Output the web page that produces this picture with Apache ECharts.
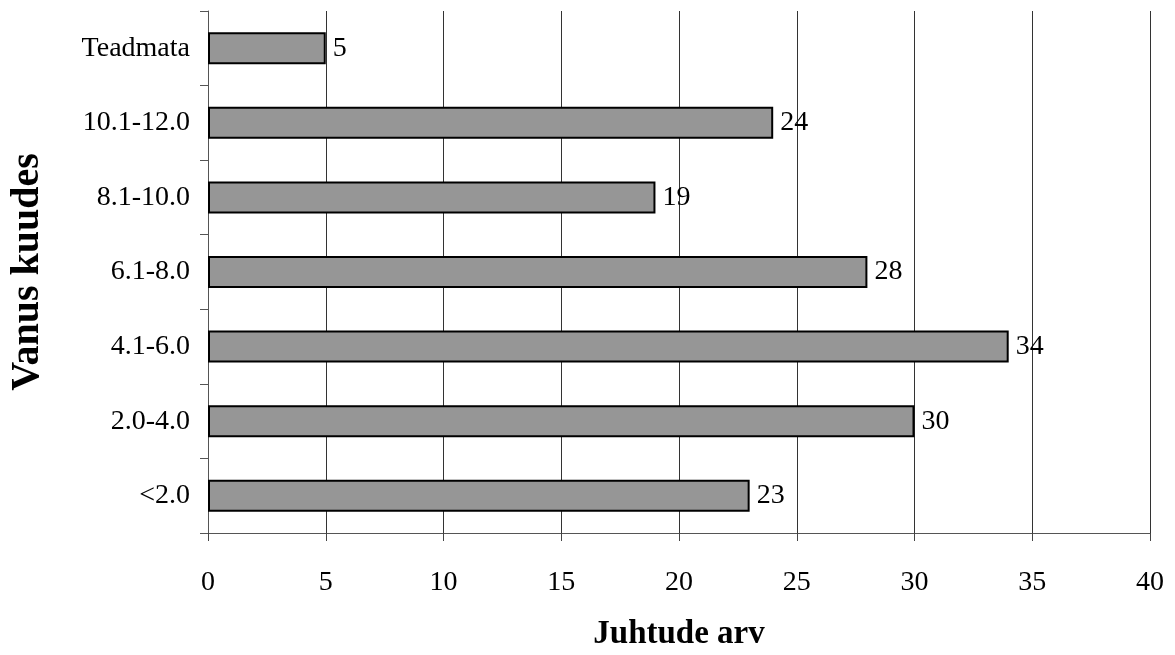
<!DOCTYPE html>
<html><head><meta charset="utf-8">
<script src="https://cdn.jsdelivr.net/npm/echarts@6/dist/echarts.min.js"></script>
<style>html,body{margin:0;padding:0;background:#fff;overflow:hidden}#c{width:1175px;height:655px}</style>
</head><body><div id="c"></div>
<script>
const categories = ['<2.0', '2.0-4.0', '4.1-6.0', '6.1-8.0', '8.1-10.0', '10.1-12.0', 'Teadmata'];
const values = [23, 30, 34, 28, 19, 24, 5];
const xTicks = [0, 5, 10, 15, 20, 25, 30, 35, 40];

const font = '"Liberation Serif", "Times New Roman", serif';
const chart = echarts.init(document.getElementById('c'));
chart.setOption({
  animation: false,
  backgroundColor: '#fff',
  grid: { left: 208, right: 25, top: 11, bottom: 122, containLabel: false, outerBoundsMode: 'none' },
  xAxis: {
    type: 'value', min: 0, max: 40, interval: 5,
    axisLine: { show: true, lineStyle: { color: '#555', width: 1 } },
    axisTick: { show: true, length: 8, lineStyle: { color: '#444' } },
    splitLine: { show: true, lineStyle: { color: '#333', width: 1 } },
    axisLabel: { color: '#000', fontFamily: font, fontSize: 28, margin: 36,
      formatter: v => xTicks.includes(v) ? String(v) : '' },
    name: 'Juhtude arv', nameLocation: 'middle', nameGap: 85,
    nameTextStyle: { color: '#000', fontFamily: font, fontSize: 33, fontWeight: 'bold' }
  },
  yAxis: {
    type: 'category', data: categories,
    axisLine: { show: true, lineStyle: { color: '#555', width: 1 } },
    axisTick: { show: true, length: 8, lineStyle: { color: '#555' } },
    axisLabel: { color: '#000', fontFamily: font, fontSize: 28, margin: 18 },
    name: 'Vanus kuudes', nameLocation: 'middle', nameGap: 160, nameRotate: 90,
    nameTextStyle: { color: '#000', fontFamily: font, fontSize: 40, fontWeight: 'bold' }
  },
  series: [{
    type: 'bar', data: values, barWidth: 32,
    itemStyle: { color: '#969696', borderColor: '#000', borderWidth: 2 },
    label: { show: true, position: 'right', distance: 7, color: '#000', fontFamily: font, fontSize: 28 }
  }]
});
</script></body></html>
